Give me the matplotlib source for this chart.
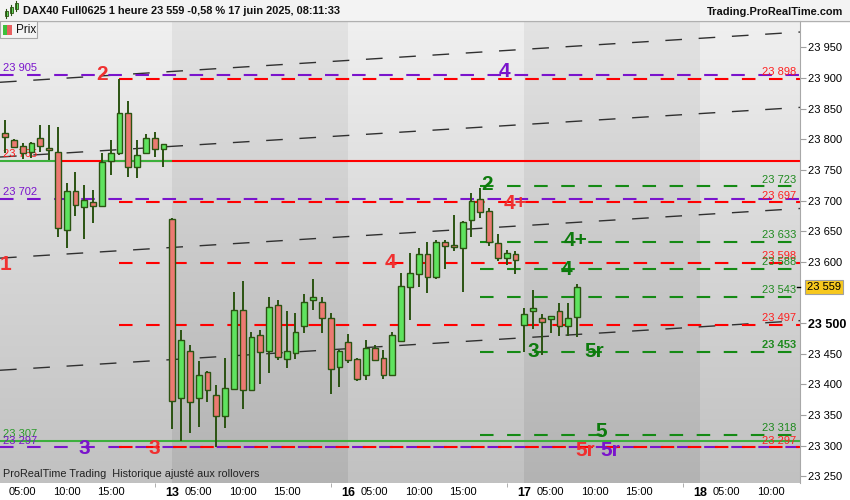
import numpy as np
import matplotlib
matplotlib.use('Agg')
import matplotlib.pyplot as plt
from matplotlib.patches import Rectangle
from matplotlib.colors import LinearSegmentedColormap

plt.rcParams['font.family'] = ['Liberation Sans', 'DejaVu Sans']

# Hourly candles, index 0 = 12 juin 03:00 (DAX40 Full0625)
opens = [23810, 23799, 23789, 23779, 23802, 23785, 23780, 23652, 23716, 23690,
         23698, 23691, 23764, 23777, 23843, 23755, 23778, 23802, 23784,
         23670, 23377, 23454, 23377, 23420, 23383, 23348, 23393, 23522, 23390,
         23480, 23454, 23529, 23442, 23451, 23496, 23537, 23535, 23508, 23428,
         23469, 23441, 23415, 23460, 23443, 23416, 23470, 23559, 23580, 23612,
         23575, 23633, 23628, 23623, 23668, 23703, 23683, 23630, 23607, 23613,
         23497, 23520, 23509, 23507, 23519, 23496, 23510]
highs = [23831, 23800, 23794, 23796, 23823, 23824, 23820, 23728, 23747, 23725,
         23718, 23778, 23799, 23898, 23862, 23799, 23809, 23812, 23793,
         23671, 23488, 23464, 23438, 23421, 23399, 23443, 23550, 23568, 23486,
         23489, 23543, 23537, 23519, 23516, 23547, 23572, 23542, 23517, 23456,
         23482, 23443, 23472, 23465, 23456, 23486, 23581, 23614, 23622, 23632,
         23635, 23635, 23677, 23667, 23713, 23721, 23687, 23646, 23620, 23617,
         23524, 23554, 23515, 23512, 23532, 23532, 23563]
lows = [23777, 23785, 23768, 23770, 23780, 23766, 23641, 23623, 23675, 23637,
        23664, 23689, 23742, 23774, 23739, 23737, 23776, 23771, 23754,
        23327, 23308, 23320, 23331, 23371, 23297, 23328, 23390, 23359, 23389,
        23401, 23419, 23440, 23426, 23442, 23484, 23522, 23484, 23384, 23396,
        23435, 23405, 23407, 23439, 23408, 23415, 23470, 23505, 23559, 23549,
        23572, 23589, 23618, 23550, 23641, 23672, 23625, 23601, 23595, 23580,
        23453, 23490, 23448, 23483, 23479, 23479, 23477]
closes = [23803, 23787, 23778, 23794, 23789, 23783, 23655, 23716, 23693, 23701,
          23691, 23763, 23778, 23843, 23755, 23774, 23802, 23784, 23792,
          23373, 23473, 23371, 23415, 23390, 23348, 23394, 23522, 23390, 23478,
          23452, 23526, 23445, 23454, 23485, 23535, 23542, 23509, 23425, 23454,
          23440, 23409, 23459, 23440, 23415, 23480, 23561, 23581, 23612, 23576,
          23633, 23626, 23624, 23665, 23699, 23682, 23633, 23607, 23615, 23603,
          23515, 23525, 23502, 23512, 23495, 23508, 23559]

last_price = 23559

# time axis
day_starts = [19, 39, 59, 79]
day_names = ['13', '16', '17', '18']
hour_ticks = [2, 7, 12, 22, 27, 32, 42, 47, 52, 62, 67, 72, 82, 87]
hour_names = ['05:00', '10:00', '15:00'] * 4 + ['05:00', '10:00']

# price axis ticks (23 550 hidden by the last price box)
price_ticks = [23250, 23300, 23350, 23400, 23450, 23500, 23600, 23650,
               23700, 23750, 23800, 23850, 23900, 23950]

# horizontal levels
red_levels = [23898, 23697, 23598, 23497, 23297]
purple_levels = [23905, 23702, 23297]
green_levels = [23723, 23633, 23588, 23543, 23453, 23318]
green_solid = 23307
red_solid = 23765

# parallel trend lines (price at left and right edge)
trend_left = [23893, 23771, 23606, 23423]
trend_right = [23975, 23852, 23687, 23504]

# label texts on the chart: (text, candle index, price, colour)
RED, PURPLE, GREEN = '#f03030', '#7a14cc', '#0d7a0d'
marks = [('2', 11, 23906, RED), ('4', 56.8, 23911, PURPLE), ('2', 54.8, 23726, GREEN),
         ('4+', 58, 23695, RED), ('4+', 64.8, 23635, GREEN), ('4', 63.8, 23588, GREEN),
         ('4', 43.8, 23599, RED), ('1', 0.1, 23596, RED), ('3', 60, 23454, GREEN),
         ('5r', 67, 23453, GREEN), ('5', 67.7, 23323, GREEN), ('5r', 65.9, 23292, RED),
         ('5r', 68.8, 23292, PURPLE), ('3', 9, 23296, PURPLE), ('3', 17, 23296, RED)]

X0, X1 = -0.57, 90.34
Y0, Y1 = 23239, 23993


def fmt(v):
    return f'{v // 1000} {v % 1000:03d}'


fig = plt.figure(figsize=(8.5, 5), dpi=100)
fig.patch.set_facecolor('white')
ax = fig.add_axes([0, 17 / 500, 800 / 850, 462 / 500])


def px(x, y):
    return x / 850, 1 - y / 500


# day backgrounds
light = LinearSegmentedColormap.from_list('l', ['#f0f0f0', '#d7d7d7', '#c1c1c1'])
dark = LinearSegmentedColormap.from_list('d', ['#e3e3e3', '#cacaca', '#b3b3b3'])
grad = np.linspace(0, 1, 256).reshape(-1, 1)
edges = [X0 - 1] + [d - 0.05 for d in day_starts] + [X1 + 1]
for k in range(len(edges) - 1):
    ax.imshow(grad, extent=[edges[k], edges[k + 1], Y0, Y1], aspect='auto',
              cmap=dark if k % 2 else light, origin='upper', zorder=0)

# trend lines
for pl, pr in zip(trend_left, trend_right):
    ax.plot([X0, X1], [pl, pr], color='#303030', lw=1.0, dashes=(12, 12), zorder=2)

# levels
for lv in purple_levels:
    ax.plot([X0, X1], [lv, lv], color='#7a14cc', lw=1.5, dashes=(6.5, 6.5), zorder=2)
for lv in red_levels:
    ax.plot([13, X1], [lv, lv], color='#ff0000', lw=1.5, dashes=(6.5, 6.5), zorder=2.1)
for lv in green_levels:
    ax.plot([54, X1], [lv, lv], color='#158a15', lw=1.5, dashes=(6.5, 6.5), zorder=2)
ax.plot([X0, X1], [green_solid] * 2, color='#3cb03c', lw=1.5, zorder=2.2)
ax.plot([5.9, X1], [red_solid] * 2, color='#ff0000', lw=1.5, zorder=2.2)
ax.plot([X0, 5.9], [red_solid] * 2, color='#3cb03c', lw=1.5, zorder=2.2)
ax.plot([11, 18.9], [red_solid] * 2, color='#3cb03c', lw=1.5, zorder=2.3)

# candles
o = np.array(opens); h = np.array(highs); l = np.array(lows); c = np.array(closes)
idx = np.arange(len(o))
up = c >= o
fill = np.where(up, '#5fe35f', '#ec7a72')
edge = '#2b5312'
ax.vlines(idx, l, h, color=edge, lw=1.4, zorder=3)
body = np.maximum(np.abs(c - o), 1.5)
ax.bar(idx, body, bottom=np.minimum(o, c), width=0.66, color=fill,
       edgecolor=edge, linewidth=1.0, zorder=4)

# level labels
lab = dict(fontsize=8, zorder=6)
ax.text(X0 + 0.3, 23905 + 3, fmt(23905), color='#7a14cc', va='bottom', **lab)
ax.text(X0 + 0.3, 23702 + 3, fmt(23702), color='#7a14cc', va='bottom', **lab)
ax.text(X0 + 0.3, red_solid + 3, fmt(red_solid), color='#ff2020', va='bottom', fontsize=8, zorder=2.5)
ax.text(X0 + 0.3, green_solid + 3, fmt(green_solid), color='#2a9a2a', va='bottom', **lab)
ax.text(X0 + 0.3, 23297 + 2, fmt(23297), color='#7a14cc', va='bottom', **lab)
for lv in red_levels:
    ax.text(89.9, lv + 3, fmt(lv), color='#ff2020', ha='right', va='bottom', **lab)
for lv in green_levels:
    ax.text(89.9, lv + 3, fmt(lv), color='#1f8a1f', ha='right',
            va='bottom', fontweight='bold' if lv == 23453 else 'normal', **lab)

for t, xi, yv, col in marks:
    ax.text(xi, yv, t, color=col, fontsize=15, fontweight='bold', ha='center',
            va='center', zorder=7)

ax.text(X0 + 0.3, 23254, 'ProRealTime Trading  Historique ajusté aux rollovers',
        fontsize=7.8, color='#222222', va='center', zorder=7)

ax.set_xlim(X0, X1)
ax.set_ylim(Y0, Y1)

# axes
for s in ['top', 'left', 'bottom']:
    ax.spines[s].set_visible(False)
ax.spines['right'].set_color('#a8a8a8')
ax.yaxis.tick_right()
ax.set_yticks(price_ticks, labels=[fmt(v) for v in price_ticks])
ax.tick_params(axis='y', length=4, color='#a0a0a0', labelsize=8, pad=2)
for t in ax.get_yticklabels():
    if t.get_text() == '23 500':
        t.set_fontweight('bold')
        t.set_fontsize(9)

xt = hour_ticks + day_starts
ax.set_xticks(xt, labels=hour_names + day_names)
ax.tick_params(axis='x', length=0, labelsize=8, pad=3)
for t in ax.get_xticklabels():
    if t.get_text() in day_names:
        t.set_fontweight('bold')
        t.set_fontsize(9)
ax.set_xticks([d - 1.9 for d in day_starts], minor=True)
ax.tick_params(axis='x', which='minor', length=3, color='#a0a0a0', direction='out')

ax.annotate(fmt(last_price), xy=(1.0, last_price),
            xycoords=('axes fraction', 'data'), xytext=(5, 0), textcoords='offset points',
            ha='left', va='center', fontsize=8, zorder=8, annotation_clip=False,
            bbox=dict(boxstyle='square,pad=0.15', facecolor='#f7c81e', edgecolor='#a0a0a0', lw=0.8))
ax.plot([X1 - 0.3, X1], [last_price] * 2, color='black', lw=1, clip_on=False, zorder=8)

# header bar
fig.add_artist(Rectangle(px(0, 20), 1, 20 / 500, transform=fig.transFigure,
                         facecolor='#f3f3f3', edgecolor='none', zorder=0))
fig.add_artist(plt.Line2D([0, 1], [1 - 20.5 / 500] * 2, transform=fig.transFigure,
                          color='#b0b0b0', lw=1))
for cx, y0, y1 in [(6, 11, 16), (11, 7, 13), (16, 3, 9)]:
    fig.add_artist(plt.Line2D([cx / 850] * 2, [1 - (y0 - 2) / 500, 1 - (y1 + 2) / 500],
                              transform=fig.transFigure, color=edge, lw=0.8))
    fig.add_artist(Rectangle(px(cx - 1.5, y1), 3 / 850, (y1 - y0) / 500, transform=fig.transFigure,
                             facecolor='#5fe35f', edgecolor=edge, lw=0.6))
fig.text(*px(23, 11), 'DAX40 Full0625 1 heure 23 559 -0,58 % 17 juin 2025, 08:11:33',
         fontsize=7.9, fontweight='bold', va='center', ha='left', color='#111111')
fig.text(*px(843, 12), 'Trading.ProRealTime.com', fontsize=7.9, fontweight='bold',
         va='center', ha='right', color='#111111')

# "Prix" legend box
fig.add_artist(Rectangle(px(0, 38), 37 / 850, 17 / 500, transform=fig.transFigure,
                         facecolor='#f4f4f4', edgecolor='#a8a8a8', lw=0.8, zorder=5))
fig.add_artist(Rectangle(px(3, 35), 4 / 850, 10 / 500, transform=fig.transFigure,
                         facecolor='#3cc03c', edgecolor='none', zorder=6))
fig.add_artist(Rectangle(px(7, 35), 5 / 850, 10 / 500, transform=fig.transFigure,
                         facecolor='#e86060', edgecolor='none', zorder=6))
fig.text(*px(16, 30), 'Prix', fontsize=8.5, va='center', ha='left', color='#111111', zorder=7)

fig.savefig('out.png', dpi=100)
